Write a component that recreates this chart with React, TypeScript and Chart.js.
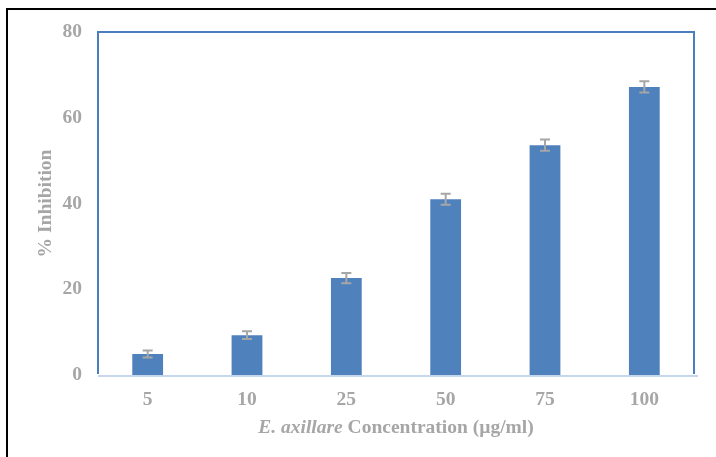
import React, { useEffect, useRef } from "react";
import { Chart, registerables } from "chart.js";

Chart.register(...registerables);

// Inhibition (%) at each extract concentration, with standard deviations
const concentrations = ["5", "10", "25", "50", "75", "100"];
const inhibition = [4.9, 9.3, 22.6, 41.0, 53.6, 67.2];
const inhibitionSd = [0.8, 0.9, 1.2, 1.3, 1.3, 1.3];
const yTicks = [0, 20, 40, 60, 80];

const GREY = "#a6a6a6";
const BAR_BLUE = "#4f81bd";
const FONT = "'Liberation Serif', 'Times New Roman', serif";

// Error bars, plot frame and axis titles
const decorations = {
  id: "decorations",
  afterDatasetsDraw(chart: any) {
    const { ctx, chartArea } = chart;
    const xs = chart.scales.x;
    const ys = chart.scales.y;
    ctx.save();
    ctx.strokeStyle = GREY;
    ctx.lineWidth = 2;
    inhibition.forEach((v, i) => {
      const x = xs.getPixelForValue(i);
      const yTop = ys.getPixelForValue(v + inhibitionSd[i]);
      const yBot = ys.getPixelForValue(v - inhibitionSd[i]);
      ctx.beginPath();
      ctx.moveTo(x, yTop);
      ctx.lineTo(x, yBot);
      ctx.moveTo(x - 5, yTop);
      ctx.lineTo(x + 5, yTop);
      ctx.moveTo(x - 5, yBot);
      ctx.lineTo(x + 5, yBot);
      ctx.stroke();
    });

    // frame: dark blue top/left/right, light baseline
    ctx.strokeStyle = "#4a7ebf";
    ctx.lineWidth = 2;
    ctx.beginPath();
    ctx.moveTo(chartArea.left, chartArea.bottom - 1);
    ctx.lineTo(chartArea.left, chartArea.top);
    ctx.lineTo(chartArea.right, chartArea.top);
    ctx.lineTo(chartArea.right, chartArea.bottom - 1);
    ctx.stroke();
    ctx.strokeStyle = "#c6d6ec";
    ctx.lineWidth = 2;
    ctx.beginPath();
    ctx.moveTo(chartArea.left, chartArea.bottom + 1);
    ctx.lineTo(chartArea.right + 4, chartArea.bottom + 1);
    ctx.stroke();

    // x-axis title with italic species name
    ctx.fillStyle = GREY;
    ctx.textBaseline = "middle";
    const part1 = "E. axillare";
    const part2 = " Concentration (µg/ml)";
    ctx.font = `italic bold 19.5px ${FONT}`;
    const w1 = ctx.measureText(part1).width;
    ctx.font = `bold 19.5px ${FONT}`;
    const w2 = ctx.measureText(part2).width;
    const cx = (chartArea.left + chartArea.right) / 2;
    const startX = cx - (w1 + w2) / 2;
    const ty = 428;
    ctx.textAlign = "left";
    ctx.font = `italic bold 19.5px ${FONT}`;
    ctx.fillText(part1, startX, ty);
    ctx.font = `bold 19.5px ${FONT}`;
    ctx.fillText(part2, startX + w1, ty);

    // y-axis title
    ctx.translate(46, (chartArea.top + chartArea.bottom) / 2);
    ctx.rotate(-Math.PI / 2);
    ctx.textAlign = "center";
    ctx.fillText("% Inhibition", 0, 0);
    ctx.restore();
  },
};

export default function App() {
  const canvasRef = useRef<HTMLCanvasElement>(null);

  useEffect(() => {
    document.body.style.margin = "0";
    const chart = new Chart(canvasRef.current!, {
      type: "bar",
      data: {
        labels: concentrations,
        datasets: [
          {
            data: inhibition,
            backgroundColor: BAR_BLUE,
            borderWidth: 0,
            barPercentage: 0.31,
            categoryPercentage: 1,
          },
        ],
      },
      options: {
        animation: false,
        responsive: false,
        layout: { padding: { top: 32, right: 22, left: 0, bottom: 0 } },
        plugins: { legend: { display: false }, tooltip: { enabled: false } },
        scales: {
          x: {
            grid: { display: false, drawTicks: false },
            border: { display: false },
            ticks: {
              color: GREY,
              font: { family: FONT, size: 19.5, weight: "bold" },
              padding: 13,
            },
            afterFit: (s: any) => {
              s.height = 82;
            },
          },
          y: {
            min: 0,
            max: 80,
            afterBuildTicks: (s: any) => {
              s.ticks = yTicks.map((v) => ({ value: v }));
            },
            grid: { display: false, drawTicks: false },
            border: { display: false },
            ticks: {
              color: GREY,
              font: { family: FONT, size: 19.5, weight: "bold" },
              padding: 16,
            },
            afterFit: (s: any) => {
              s.width = 98;
            },
          },
        },
      },
      plugins: [decorations],
    });
    return () => chart.destroy();
  }, []);

  return (
    <div style={{ position: "relative", width: 716, height: 457, overflow: "hidden", background: "#fff" }}>
      <canvas ref={canvasRef} width={716} height={457} style={{ display: "block" }} />
      <div
        style={{
          position: "absolute",
          left: 6,
          top: 8,
          width: 740,
          height: 480,
          border: "2px solid #000",
          pointerEvents: "none",
        }}
      />
    </div>
  );
}
